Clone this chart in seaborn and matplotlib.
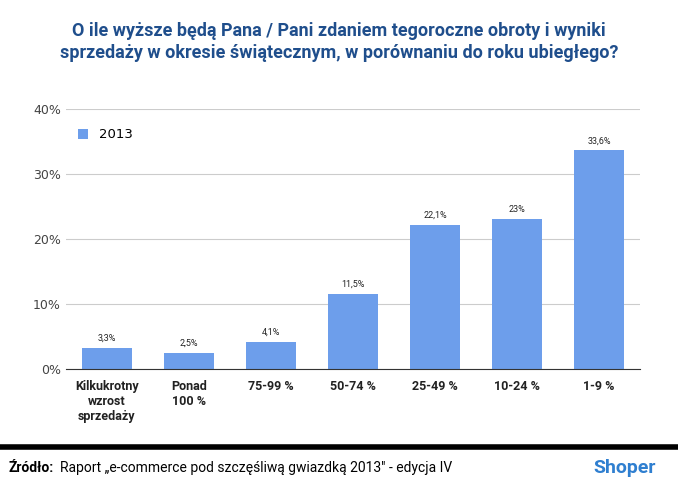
import matplotlib
matplotlib.use("Agg")
import matplotlib.pyplot as plt
import seaborn as sns
import pandas as pd

categories = ["Kilkukrotny\nwzrost\nsprzedaży", "Ponad\n100 %", "75-99 %", "50-74 %", "25-49 %", "10-24 %", "1-9 %"]
values = [3.3, 2.5, 4.1, 11.5, 22.1, 23.0, 33.6]
labels = ["3,3%", "2,5%", "4,1%", "11,5%", "22,1%", "23%", "33,6%"]
yticks = [0, 10, 20, 30, 40]

df = pd.DataFrame({"cat": categories, "val": values})
plt.rcParams["font.family"] = "Roboto"
fig = plt.figure(figsize=(6.78, 4.9), dpi=100)
ax = fig.add_axes([0.097, 0.247, 0.847, 0.531])
sns.barplot(data=df, x="cat", y="val", color="#6d9eeb", width=0.61, ax=ax, saturation=1, label="2013")
for i, (v, l) in enumerate(zip(values, labels)):
    ax.text(i, v + 0.8, l, ha="center", va="bottom", fontsize=6.5, color="#222222")
ax.set_ylim(0, 40)
ax.set_xlim(-0.5, 6.5)
ax.set_yticks(yticks)
ax.set_yticklabels([f"{t}%" for t in yticks], fontfamily="DejaVu Sans", fontsize=9, color="#444444")
ax.yaxis.grid(True, color="#cccccc", lw=0.8)
ax.set_axisbelow(True)
for s in ax.spines.values():
    s.set_visible(False)
ax.spines["bottom"].set_visible(True)
ax.spines["bottom"].set_color("#333333")
ax.tick_params(length=0)
ax.tick_params(axis="x", labelsize=9, pad=8)
for t in ax.get_xticklabels():
    t.set_fontweight("bold")
    t.set_color("#222222")
ax.set_xlabel("")
ax.set_ylabel("")
leg = ax.legend(loc="upper left", bbox_to_anchor=(0.0, 0.97), frameon=False, handlelength=0.8, handleheight=0.8,
                prop={"family": "DejaVu Sans", "size": 9.5})
fig.text(0.5, 0.955, "O ile wyższe będą Pana / Pani zdaniem tegoroczne obroty i wyniki\nsprzedaży w okresie świątecznym, w porównaniu do roku ubiegłego?",
         ha="center", va="top", fontsize=13, fontweight="bold", color="#1f4e8c", linespacing=1.3)
fig.add_artist(plt.Line2D([0, 1], [0.088, 0.088], color="black", lw=4))
fig.text(0.012, 0.045, "Źródło:", fontsize=10, fontweight="bold", va="center")
fig.text(0.088, 0.045, "Raport „e-commerce pod szczęśliwą gwiazdką 2013\" - edycja IV", fontsize=10, va="center")
fig.text(0.875, 0.045, "Shoper", fontsize=14, fontweight="bold", color="#2f7fd0", va="center")
fig.savefig("out.png", dpi=100)
